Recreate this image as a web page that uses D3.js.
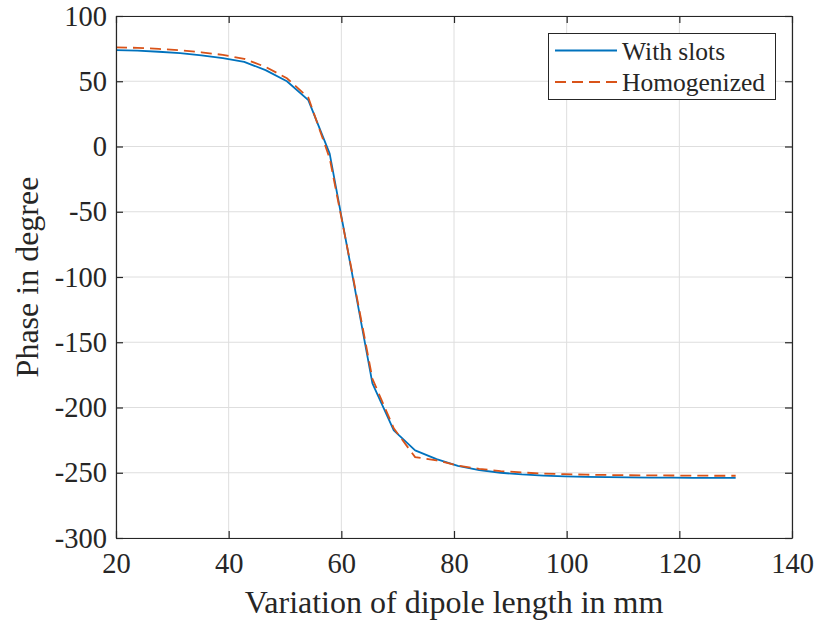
<!DOCTYPE html>
<html>
<head>
<meta charset="utf-8">
<script src="https://cdn.jsdelivr.net/npm/d3@7"></script>
<style>
  html, body { margin: 0; padding: 0; background: #fff; }
  svg { display: block; }
  text { font-family: "Liberation Serif", "Times New Roman", serif; fill: #262626; }
</style>
</head>
<body>
<svg id="chart" width="817" height="623"></svg>
<script>
// Dipole length samples (mm)
const dipoleLength = [20, 23.79, 27.59, 31.38, 35.17, 38.97, 42.76, 46.55, 50.34, 54.14,
  57.93, 61.72, 65.52, 69.31, 73.10, 76.90, 80.69, 84.48, 88.28, 92.07,
  95.86, 99.66, 103.45, 107.24, 111.03, 114.83, 118.62, 122.41, 126.21, 130];

// Reflection phase (degree), slotted dipole
const phaseWithSlots = [73.9, 73.4, 72.6, 71.5, 69.9, 67.8, 64.9, 58.5, 50.0, 35.5,
  -5.4, -93, -181.5, -217.5, -232.8, -239.5, -244.8, -248.0, -250.0, -251.3,
  -252.2, -252.8, -253.2, -253.4, -253.6, -253.7, -253.8, -253.9, -254.0, -254.0];

// Reflection phase (degree), homogenized model
const phaseHomogenized = [76.0, 75.6, 74.8, 73.7, 72.2, 70.2, 67.2, 61.0, 52.3, 37.5,
  -9, -92, -178, -216, -238, -240.5, -244.5, -247.0, -248.7, -249.8,
  -250.6, -251.1, -251.5, -251.7, -251.9, -252.0, -252.1, -252.2, -252.3, -252.3];

const xTicks = [20, 40, 60, 80, 100, 120, 140];
const yTicks = [-300, -250, -200, -150, -100, -50, 0, 50, 100];
const seriesNames = ["With slots", "Homogenized"];

const svg = d3.select("#chart");
const plotL = 116, plotR = 792, plotT = 16, plotB = 538;

const x = d3.scaleLinear().domain([20, 140]).range([plotL, plotR]);
const y = d3.scaleLinear().domain([-300, 100]).range([plotB, plotT]);

// grid
const grid = svg.append("g");
grid.selectAll("line.gx").data(xTicks).join("line")
  .attr("x1", d => x(d)).attr("x2", d => x(d))
  .attr("y1", plotT).attr("y2", plotB)
  .attr("stroke", "#dedede").attr("stroke-width", 1);
grid.selectAll("line.gy").data(yTicks).join("line")
  .attr("x1", plotL).attr("x2", plotR)
  .attr("y1", d => y(d)).attr("y2", d => y(d))
  .attr("stroke", "#dedede").attr("stroke-width", 1);

// series
const pts = vals => vals.map((v, i) => [dipoleLength[i], v]);
const line = d3.line().x(d => x(d[0])).y(d => y(d[1]));

svg.append("path").datum(pts(phaseWithSlots))
  .attr("d", line).attr("fill", "none")
  .attr("stroke", "#0072BD").attr("stroke-width", 1.8)
  .attr("stroke-linejoin", "round");

svg.append("path").datum(pts(phaseHomogenized))
  .attr("d", line).attr("fill", "none")
  .attr("stroke", "#D95319").attr("stroke-width", 1.8)
  .attr("stroke-dasharray", "11,6");

// axes with inward ticks on all sides
const tickLen = 7;
const plainNum = d => String(d);
const styleAxis = g => {
  g.select(".domain").attr("stroke", "#262626").attr("stroke-width", 1.2);
  g.selectAll(".tick line").attr("stroke", "#262626").attr("stroke-width", 1.2);
};
const styleLabels = g => g.selectAll(".tick text")
  .attr("font-size", 28.5).attr("fill", "#262626")
  .attr("font-family", "Liberation Serif");

svg.append("g").attr("transform", `translate(0,${plotB})`)
  .call(d3.axisBottom(x).tickValues(xTicks).tickFormat(plainNum)
    .tickSize(-tickLen).tickPadding(15).tickSizeOuter(0))
  .call(styleAxis).call(styleLabels);

svg.append("g").attr("transform", `translate(0,${plotT})`)
  .call(d3.axisTop(x).tickValues(xTicks).tickSize(-tickLen).tickFormat("").tickSizeOuter(0))
  .call(styleAxis);

svg.append("g").attr("transform", `translate(${plotL},0)`)
  .call(d3.axisLeft(y).tickValues(yTicks).tickFormat(plainNum)
    .tickSize(-tickLen).tickPadding(9).tickSizeOuter(0))
  .call(styleAxis).call(styleLabels);

svg.append("g").attr("transform", `translate(${plotR},0)`)
  .call(d3.axisRight(y).tickValues(yTicks).tickSize(-tickLen).tickFormat("").tickSizeOuter(0))
  .call(styleAxis);

// axis titles
svg.append("text")
  .attr("x", (plotL + plotR) / 2).attr("y", 613)
  .attr("text-anchor", "middle").attr("font-size", 32)
  .text("Variation of dipole length in mm");

svg.append("text")
  .attr("transform", `translate(38,${(plotT + plotB) / 2}) rotate(-90)`)
  .attr("text-anchor", "middle").attr("font-size", 32)
  .text("Phase in degree");

// legend
const lg = svg.append("g");
lg.append("rect").attr("x", 548.5).attr("y", 33.5).attr("width", 227).attr("height", 66)
  .attr("fill", "#fff").attr("stroke", "#262626").attr("stroke-width", 1);
const legendColors = ["#0072BD", "#D95319"];
const legendDash = [null, "11,6"];
seriesNames.forEach((name, i) => {
  const yy = 50.5 + i * 31.5;
  lg.append("line").attr("x1", 555).attr("x2", 617).attr("y1", yy).attr("y2", yy)
    .attr("stroke", legendColors[i]).attr("stroke-width", 1.8)
    .attr("stroke-dasharray", legendDash[i]);
  lg.append("text").attr("x", 622).attr("y", yy + 9)
    .attr("font-size", 25.5).text(name);
});
</script>
</body>
</html>
